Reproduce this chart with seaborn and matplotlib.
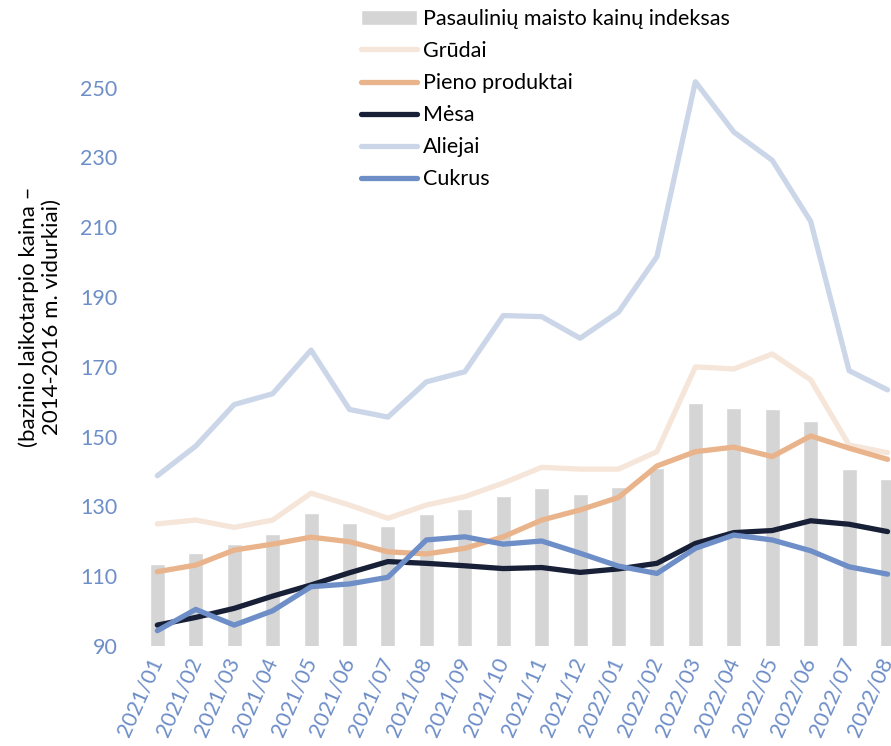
import matplotlib
matplotlib.use("Agg")
import matplotlib.pyplot as plt
import seaborn as sns
import pandas as pd

months = ["2021/01", "2021/02", "2021/03", "2021/04", "2021/05", "2021/06", "2021/07",
          "2021/08", "2021/09", "2021/10", "2021/11", "2021/12", "2022/01", "2022/02",
          "2022/03", "2022/04", "2022/05", "2022/06", "2022/07", "2022/08"]

fpi = [113.5, 116.6, 119.2, 122.1, 128.0, 125.3, 124.5, 127.9, 129.2, 133.0,
       135.2, 133.6, 135.5, 141.0, 159.6, 158.2, 157.9, 154.5, 140.7, 137.9]
cereals = [125.0, 126.1, 124.0, 126.1, 133.8, 130.4, 126.6, 130.4, 132.8, 136.7,
           141.2, 140.7, 140.7, 145.7, 170.0, 169.4, 173.7, 166.3, 147.6, 145.4]
dairy = [111.3, 113.2, 117.5, 119.2, 121.2, 119.9, 117.0, 116.4, 118.0, 121.3,
         126.1, 129.0, 132.6, 141.6, 145.7, 147.0, 144.3, 150.2, 146.7, 143.5]
meat = [96.0, 98.2, 100.8, 104.3, 107.5, 111.0, 114.2, 113.7, 113.0, 112.2,
        112.5, 111.1, 112.1, 113.7, 119.4, 122.5, 123.1, 125.9, 124.9, 122.8]
oils = [138.8, 147.3, 159.2, 162.3, 174.8, 157.8, 155.6, 165.7, 168.6, 184.7,
        184.4, 178.2, 185.7, 201.6, 251.7, 237.3, 229.2, 211.7, 168.9, 163.4]
sugar = [94.4, 100.5, 96.0, 100.1, 107.0, 107.8, 109.7, 120.4, 121.3, 119.2,
         120.1, 116.6, 112.9, 110.8, 118.0, 121.8, 120.4, 117.3, 112.7, 110.6]

bar_label = "Pasaulinių maisto kainų indeksas"
series = [("Grūdai", cereals, "#f6e5d9"),
          ("Pieno produktai", dairy, "#e9b48b"),
          ("Mėsa", meat, "#172036"),
          ("Aliejai", oils, "#ccd6e9"),
          ("Cukrus", sugar, "#6e8ec8")]
yticks = [90, 110, 130, 150, 170, 190, 210, 230, 250]
ylabel = "(bazinio laikotarpio kaina –\n2014-2016 m. vidurkiai)"

sns.set_theme(style="white")
plt.rcParams["font.family"] = ["Lato", "DejaVu Sans"]

fig = plt.figure(figsize=(8.91, 7.46), dpi=100)
ax = fig.add_axes([0.155, 0.134, 0.845, 0.842])

df = pd.DataFrame({"month": months, "fpi": fpi})
sns.barplot(data=df, x="month", y="fpi", color="#d5d5d5", width=0.39,
            saturation=1, ax=ax, label=bar_label, order=months)

for name, vals, col in series:
    d = pd.DataFrame({"month": months, "v": vals})
    sns.lineplot(data=d, x="month", y="v", sort=False, color=col, linewidth=3.8,
                 ax=ax, label=name, solid_capstyle="round", solid_joinstyle="round")

ax.set_xlim(-0.5, 19.09)
ax.set_ylim(90, 270)
ax.set_yticks(yticks)
ax.set_yticklabels([str(t) for t in yticks])
ax.set_xlabel("")
ax.set_ylabel("")
for s in ax.spines.values():
    s.set_visible(False)
ax.tick_params(axis="both", length=0, labelsize=15.5, colors="#6e8ec8")
ax.tick_params(axis="y", pad=15)
ax.tick_params(axis="x", pad=9)
for lab in ax.get_xticklabels():
    lab.set_rotation(66)
    lab.set_ha("right")
    lab.set_rotation_mode("anchor")
    lab.set_va("center")

fig.text(0.045, 0.575, ylabel, rotation=90, ha="center", va="center",
         fontsize=16, color="black", linespacing=1.15)

handles, labels = ax.get_legend_handles_labels()
idx = labels.index(bar_label)
order = [idx] + [i for i in range(len(labels)) if i != idx]
leg = ax.legend([handles[i] for i in order], [labels[i] for i in order],
                loc="upper left", bbox_to_anchor=(0.405, 0.988),
                bbox_transform=fig.transFigure, frameon=False, fontsize=15.5,
                handlelength=2.6, handletextpad=0.3, labelspacing=0.56,
                borderaxespad=0, borderpad=0)
for t in leg.get_texts():
    t.set_color("black")

fig.savefig("out.png", dpi=100)
